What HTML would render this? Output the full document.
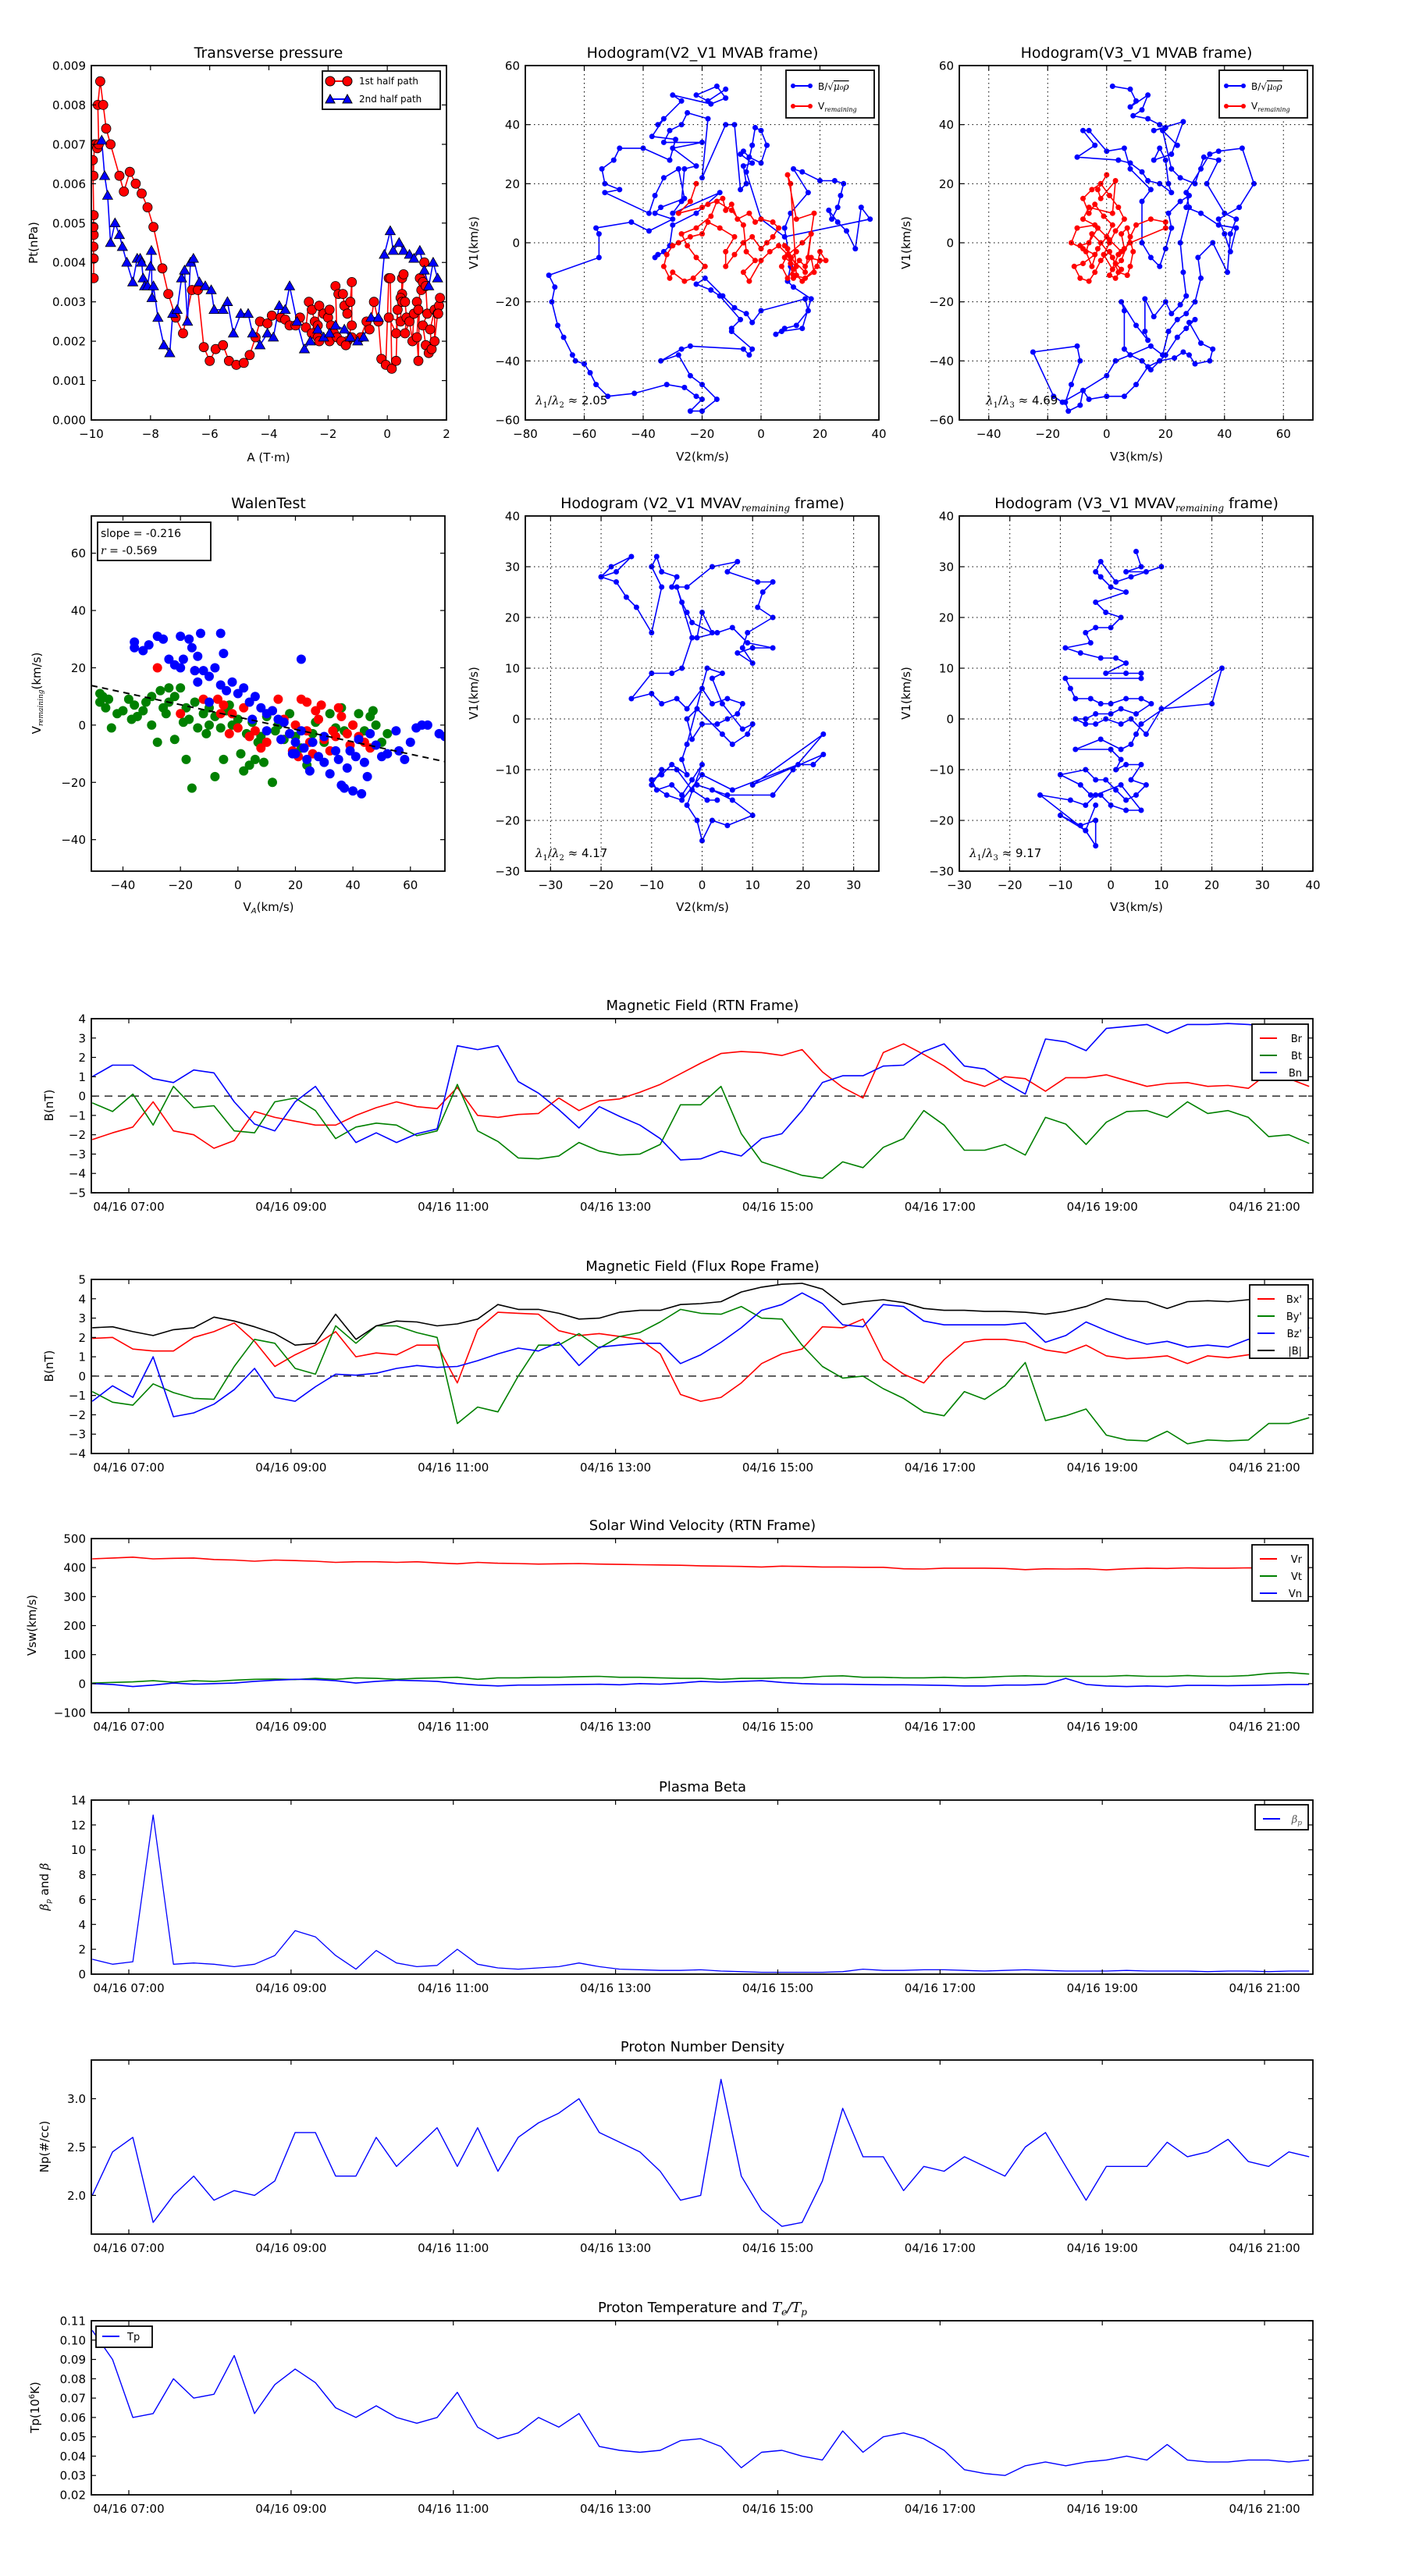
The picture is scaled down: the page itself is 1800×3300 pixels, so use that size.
<!DOCTYPE html>
<html><head><meta charset="utf-8"><title>Flux rope analysis</title>
<style>
html,body{margin:0;padding:0;background:#fff;}
svg{display:block;font-family:"DejaVu Sans","Liberation Sans",sans-serif;}
</style></head>
<body>
<svg id="fig" width="1800" height="3300" viewBox="0 0 1800 3300" xmlns="http://www.w3.org/2000/svg">
<rect x="0" y="0" width="1800" height="3300" fill="#fff"/>
<defs id="defs"></defs>
</svg>
<script>
// ---------- time-series data (15-min samples starting 06:33) ----------
const tStart = 6.55, tStep = 0.25;
const tickHours = [7,9,11,13,15,17,19,21];
const tickLabels = ["04/16 07:00","04/16 09:00","04/16 11:00","04/16 13:00","04/16 15:00","04/16 17:00","04/16 19:00","04/16 21:00"];
const Br = [-2.25,-1.9,-1.6,-0.3,-1.8,-2.0,-2.7,-2.3,-0.8,-1.1,-1.3,-1.5,-1.5,-1.0,-0.6,-0.3,-0.55,-0.65,0.45,-1.0,-1.1,-0.95,-0.9,-0.1,-0.75,-0.25,-0.15,0.2,0.6,1.15,1.7,2.2,2.3,2.25,2.1,2.4,1.25,0.45,-0.1,2.25,2.7,2.15,1.55,0.8,0.5,1.0,0.9,0.25,0.95,0.95,1.1,0.8,0.5,0.65,0.7,0.5,0.55,0.4,1.2,0.9,0.5];
const Bt = [-0.35,-0.8,0.1,-1.5,0.5,-0.6,-0.5,-1.8,-1.9,-0.3,-0.1,-0.75,-2.2,-1.6,-1.4,-1.5,-2.05,-1.8,0.6,-1.8,-2.35,-3.2,-3.25,-3.1,-2.4,-2.85,-3.05,-3.0,-2.5,-0.45,-0.45,0.5,-1.95,-3.4,-3.75,-4.1,-4.25,-3.4,-3.7,-2.65,-2.2,-0.75,-1.5,-2.8,-2.8,-2.5,-3.05,-1.1,-1.45,-2.5,-1.35,-0.8,-0.75,-1.1,-0.3,-0.9,-0.75,-1.1,-2.1,-2.0,-2.45];
const Bn = [1.0,1.6,1.6,0.9,0.7,1.35,1.2,-0.3,-1.45,-1.8,-0.3,0.5,-1.0,-2.4,-1.9,-2.4,-1.95,-1.7,2.6,2.4,2.6,0.75,0.15,-0.7,-1.65,-0.55,-1.05,-1.5,-2.2,-3.3,-3.25,-2.85,-3.1,-2.2,-1.95,-0.75,0.7,1.05,1.05,1.55,1.6,2.3,2.7,1.55,1.4,0.7,0.1,2.95,2.8,2.35,3.5,3.6,3.7,3.25,3.7,3.7,3.75,3.7,3.6,3.3,3.0];
const Bx = [1.95,2.0,1.4,1.3,1.3,2.0,2.3,2.75,1.8,0.5,1.1,1.6,2.3,1.0,1.2,1.1,1.6,1.6,-0.35,2.4,3.3,3.25,3.2,2.35,2.1,2.2,2.05,1.9,1.15,-0.95,-1.3,-1.1,-0.35,0.65,1.15,1.4,2.55,2.5,2.95,0.85,0.1,-0.35,0.85,1.75,1.9,1.9,1.75,1.35,1.2,1.6,1.05,0.9,0.95,1.05,0.65,1.05,0.95,1.1,1.2,1.6,1.9];
const By = [-0.8,-1.35,-1.5,-0.4,-0.85,-1.15,-1.2,0.5,1.9,1.7,0.4,0.1,2.6,1.7,2.6,2.6,2.25,2.0,-2.45,-1.6,-1.85,0,1.6,1.6,2.2,1.45,2.05,2.25,2.8,3.45,3.25,3.2,3.6,3.0,2.95,1.6,0.5,-0.1,0,-0.65,-1.15,-1.85,-2.05,-0.8,-1.2,-0.5,0.7,-2.3,-2.05,-1.7,-3.05,-3.3,-3.35,-2.85,-3.5,-3.3,-3.35,-3.3,-2.45,-2.45,-2.15];
const Bz = [-1.3,-0.5,-1.1,1.0,-2.1,-1.9,-1.45,-0.7,0.4,-1.1,-1.3,-0.55,0.1,0.05,0.15,0.4,0.55,0.45,0.5,0.8,1.15,1.45,1.3,1.75,0.55,1.5,1.6,1.7,1.7,0.65,1.1,1.75,2.5,3.4,3.7,4.3,3.75,2.65,2.55,3.7,3.6,2.85,2.65,2.65,2.65,2.65,2.75,1.75,2.1,2.8,2.35,1.95,1.65,1.8,1.5,1.6,1.5,1.9,2.1,2.3,2.5];
const Bmag = [2.5,2.55,2.3,2.1,2.4,2.5,3.05,2.85,2.55,2.2,1.6,1.7,3.2,1.9,2.6,2.85,2.8,2.6,2.7,2.95,3.7,3.45,3.45,3.25,2.95,3.0,3.3,3.4,3.4,3.7,3.75,3.85,4.35,4.6,4.75,4.8,4.5,3.7,3.85,3.95,3.8,3.5,3.4,3.4,3.35,3.35,3.3,3.2,3.35,3.6,4.0,3.9,3.85,3.5,3.85,3.9,3.85,3.95,4.0,4.0,4.0];
const Vr = [430,433,436,430,432,433,428,426,422,426,424,422,418,420,420,418,420,416,413,418,415,414,412,413,414,412,411,410,409,408,406,405,404,402,405,404,402,402,401,401,396,395,398,398,398,397,393,396,395,396,392,396,398,397,399,398,398,399,398,400,396];
const Vt = [2,4,6,10,5,10,8,12,15,16,14,18,15,20,18,15,18,20,22,15,20,20,22,22,24,25,22,22,20,18,18,15,18,18,20,20,25,27,22,22,20,20,22,20,22,25,27,25,25,25,25,28,25,25,28,25,25,28,35,38,33];
const Vn = [0,-3,-10,-5,2,-2,0,2,8,12,15,14,10,2,8,12,10,8,0,-5,-8,-5,-5,-4,-3,-2,-4,0,-2,2,8,5,8,10,4,0,-2,-2,-3,-4,-4,-5,-6,-8,-8,-5,-5,-2,18,-3,-8,-10,-8,-10,-6,-6,-7,-6,-5,-3,-3];
const betaP = [1.2,0.8,1.0,12.8,0.8,0.9,0.8,0.6,0.8,1.5,3.5,3.0,1.5,0.4,1.9,0.9,0.6,0.7,2.0,0.8,0.5,0.4,0.5,0.6,0.9,0.6,0.4,0.35,0.3,0.3,0.35,0.25,0.2,0.15,0.15,0.15,0.15,0.2,0.4,0.3,0.3,0.35,0.35,0.3,0.25,0.3,0.35,0.3,0.25,0.25,0.25,0.3,0.25,0.25,0.25,0.2,0.25,0.25,0.2,0.25,0.25];
const Np = [2.0,2.45,2.6,1.72,2.0,2.2,1.95,2.05,2.0,2.15,2.65,2.65,2.2,2.2,2.6,2.3,2.5,2.7,2.3,2.7,2.25,2.6,2.75,2.85,3.0,2.65,2.55,2.45,2.25,1.95,2.0,3.2,2.2,1.85,1.68,1.72,2.15,2.9,2.4,2.4,2.05,2.3,2.25,2.4,2.3,2.2,2.5,2.65,2.3,1.95,2.3,2.3,2.3,2.55,2.4,2.45,2.58,2.35,2.3,2.45,2.4];
const Tp = [0.105,0.09,0.06,0.062,0.08,0.07,0.072,0.092,0.062,0.077,0.085,0.078,0.065,0.06,0.066,0.06,0.057,0.06,0.073,0.055,0.049,0.052,0.06,0.055,0.062,0.045,0.043,0.042,0.043,0.048,0.049,0.045,0.034,0.042,0.043,0.04,0.038,0.053,0.042,0.05,0.052,0.049,0.043,0.033,0.031,0.03,0.035,0.037,0.035,0.037,0.038,0.04,0.038,0.046,0.038,0.037,0.037,0.038,0.038,0.037,0.038];

// ---------- transverse pressure ----------
const A1 = [-9.92,-9.92,-9.93,-9.92,-9.93,-9.92,-9.95,-9.93,-9.9,-9.85,-9.8,-9.75,-9.78,-9.7,-9.6,-9.5,-9.35,-9.05,-8.9,-8.7,-8.5,-8.3,-8.1,-7.9,-7.6,-7.4,-7.15,-6.9,-6.6,-6.4,-6.2,-6.0,-5.8,-5.55,-5.35,-5.1,-4.85,-4.65,-4.45,-4.3,-4.05,-3.9,-3.6,-3.45,-3.3,-3.1,-2.95,-2.75,-2.65,-2.55,-2.45,-2.55,-2.35,-2.3,-2.35,-2.3,-2.15,-2.0,-1.95,-1.9,-1.95,-1.8,-1.7,-1.75,-1.65,-1.5,-1.45,-1.35,-1.25,-1.2,-1.2,-1.35,-1.55,-1.4,-1.2,-0.9,-0.7,-0.6,-0.45,-0.3,-0.2,-0.05,0.05,0.1,0.15,0.3,0.35,0.3,0.05,0.45,0.5,0.55,0.5,0.45,0.5,0.6,0.65,0.6,0.75,0.85,0.9,1.0,1.05,1.0,1.05,1.1,1.15,1.2,1.25,1.3,1.35,1.2,1.3,1.4,1.5,1.45,1.6,1.6,1.7,1.75,1.78,1.72];
const P1 = [0.0036,0.0041,0.0044,0.0047,0.0049,0.0052,0.0066,0.0062,0.0070,0.0070,0.0069,0.0070,0.0080,0.0086,0.0080,0.0074,0.0070,0.0062,0.0058,0.0063,0.0060,0.00575,0.0054,0.0049,0.00385,0.0032,0.0026,0.0022,0.0033,0.0033,0.00185,0.0015,0.0018,0.0019,0.0015,0.0014,0.00145,0.00165,0.0021,0.0025,0.00245,0.00265,0.0026,0.00255,0.0024,0.0024,0.0026,0.00235,0.0030,0.0028,0.0025,0.0022,0.0021,0.0020,0.0024,0.0029,0.0027,0.0026,0.0028,0.0024,0.0020,0.0022,0.0021,0.0034,0.0032,0.0032,0.0029,0.0027,0.0030,0.0035,0.0024,0.0020,0.0020,0.0019,0.0021,0.0021,0.0025,0.0023,0.0030,0.0025,0.00155,0.0014,0.0036,0.0036,0.0013,0.0015,0.0028,0.0022,0.0026,0.0025,0.0036,0.0037,0.0032,0.0031,0.0030,0.0030,0.0026,0.0022,0.0025,0.0020,0.0027,0.0030,0.0028,0.0021,0.0015,0.0036,0.0033,0.0035,0.0040,0.0034,0.0027,0.0024,0.0019,0.0017,0.0018,0.0023,0.0028,0.0020,0.0027,0.0029,0.0031,0.0027];
const A2 = [-9.65,-9.55,-9.45,-9.35,-9.2,-9.05,-8.95,-8.8,-8.6,-8.45,-8.35,-8.3,-8.25,-8.2,-8.1,-8.0,-7.97,-7.95,-7.9,-7.75,-7.55,-7.35,-7.25,-7.1,-6.95,-6.85,-6.75,-6.65,-6.55,-6.35,-6.15,-5.95,-5.85,-5.55,-5.4,-5.2,-4.95,-4.7,-4.55,-4.3,-4.05,-3.85,-3.65,-3.45,-3.3,-3.05,-2.8,-2.6,-2.35,-2.15,-1.95,-1.75,-1.45,-1.25,-1.0,-0.8,-0.55,-0.3,-0.1,0.1,0.2,0.4,0.55,0.75,0.9,1.1,1.25,1.4,1.55,1.7];
const P2 = [0.0071,0.0062,0.0057,0.0045,0.0050,0.0047,0.0044,0.0040,0.0035,0.0041,0.0041,0.0040,0.0036,0.0034,0.0034,0.0039,0.0043,0.0031,0.0034,0.0026,0.0019,0.0017,0.0027,0.0028,0.0036,0.0038,0.0025,0.0040,0.0041,0.0035,0.0034,0.0033,0.0028,0.0028,0.0030,0.0022,0.0027,0.0027,0.0022,0.0019,0.0022,0.0021,0.0029,0.0028,0.0034,0.0025,0.0018,0.0020,0.0023,0.0021,0.0022,0.0024,0.0023,0.0021,0.0020,0.0021,0.0026,0.0026,0.0042,0.0048,0.0043,0.0045,0.0043,0.0042,0.0041,0.0043,0.0038,0.0034,0.0040,0.0036];

// ---------- hodogram MVAB V2-V1 ----------
const h1BV2 = [-12,-18,-22,-15,-12,-17,-30,-27,-35,-33,-37,-29,-31,-40,-48,-50,-54,-53,-48,-53,-38,-36,-33,-28,-26,-34,-36,-30,-38,-44,-56,-55,-55,-72,-70,-71,-69,-67,-64,-63,-60,-58,-56,-52,-43,-32,-26,-22,-20,-24,-20,-15,-20,-24,-28,-34,-27,-24,-6,-4,-3,-10,-10,-7,-14,-17,-22,-19,-13,-9,-5,-3,0,15,16,12,8,5,7,14,17,11,9,10,8,10,16,11,14,20,25,28,27,26,24,23,26,29,32,34,37,8,0,-5,-3,-2,0,2,0,-4,-6,-7,-3,-6,-5,-7,-9,-12,-20,-18,-25,-27,-31,-33,-20,-30,-22,-26,-27,-30,-14,-22,-30,-31,-33,-36,-35];
const h1BV1 = [52,48,50,53,49,47,50,48,40,42,36,35,28,32,32,28,25,20,18,17,10,16,22,25,15,12,10,8,4,7,5,3,-5,-11,-15,-20,-28,-32,-38,-40,-41,-44,-48,-52,-51,-48,-49,-52,-53,-57,-57,-53,-48,-45,-38,-40,-36,-35,-36,-38,-36,-30,-29,-26,-18,-16,-14,-12,-18,-22,-24,-27,-23,-19,-23,-28,-29,-31,-30,-29,-19,-15,-13,-8,5,10,17,25,24,21,21,20,16,12,8,11,7,4,-2,12,8,2,8,24,33,39,38,33,27,29,31,30,27,26,20,18,40,40,22,42,44,40,38,34,34,32,26,25,14,10,17,10,6,-1,-3,-5,-4];
const h1RV2 = [-22,-24,-28,-20,-18,-13,-12,-10,-8,-4,-2,0,4,6,4,2,0,-3,-6,-9,-12,-12,-9,-14,-18,-20,-24,-28,-30,-32,-33,-31,-30,-26,-23,-19,-22,-25,-27,-22,-17,-15,-10,-6,-5,-2,-6,-4,0,3,6,9,7,9,11,13,15,17,18,15,11,10,12,10,11,9,12,8,14,17,16,20,22,20,19,14,12,10,9,12,18,15,10,8];
const h1RV1 = [20,14,10,12,13,15,11,13,8,10,7,8,7,5,2,0,-2,2,0,-4,-8,-3,2,5,7,3,2,0,-1,-4,-8,-12,-10,-13,-12,-8,-5,-1,3,5,9,14,11,6,-3,-6,-10,-13,-6,-3,-1,-4,-8,-12,-9,-6,-8,-5,-10,-12,-11,-7,-3,-5,-12,-2,-8,-5,0,3,-5,-6,-6,-3,-8,-13,-11,20,23,8,10,-10,-5,-1];

// ---------- hodogram MVAB V3-V1 ----------
const h2BV3 = [2,8,10,8,14,12,9,14,18,20,16,26,22,16,18,20,21,22,18,14,12,8,4,-10,-4,-8,-6,0,6,8,15,12,12,15,18,20,22,21,25,28,27,32,38,44,42,40,38,45,50,46,38,35,32,27,28,25,26,27,25,22,20,16,13,13,14,10,5,6,6,8,12,15,20,24,27,30,28,32,36,35,30,28,26,23,18,14,10,6,0,-6,-8,-9,-13,-14,-12,-9,-10,-25,-18,-15,-8,0,3,8,15,19,21,24,27,30,32,31,36,41,42,44,40,34,38,33,30,25,22,19,24];
const h2BV1 = [53,52,48,46,50,45,43,42,40,39,38,41,30,28,32,28,20,17,20,21,24,27,28,29,33,38,38,31,32,25,18,14,0,-5,-8,-2,5,10,14,16,12,10,6,5,-3,3,8,12,20,32,31,30,25,17,12,0,-10,-18,-21,-24,-20,-25,-19,-30,-33,-28,-20,-23,-36,-38,-40,-43,-38,-32,-29,-26,-27,-34,-36,-40,-41,-38,-37,-39,-40,-42,-48,-52,-52,-53,-50,-55,-57,-54,-48,-40,-35,-37,-52,-54,-50,-45,-40,-38,-35,-38,-30,-26,-24,-20,-12,-5,0,-10,3,8,10,20,28,29,20,22,25,38,33];
const h2RV3 = [0,-3,-2,3,2,-6,-8,-4,-10,-12,-8,-4,-8,-11,-9,-6,-4,-2,1,3,5,3,1,4,6,5,7,9,8,7,4,2,-2,-5,-7,-5,-3,0,2,-1,-4,-6,-8,-5,-2,1,4,6,3,1,-1,2,5,8,10,15,20,20,8,5,1,-3,-6,-9];
const h2RV1 = [23,18,15,21,10,12,8,6,5,0,-2,-4,-7,-8,-12,-13,-10,-6,-3,-7,-9,-12,-11,-4,-2,3,5,-3,-8,-11,-10,-5,0,3,-3,-8,-2,2,6,9,13,10,15,18,20,16,12,8,4,0,-4,-9,-6,2,6,8,7,5,0,-3,1,5,0,-1];

// ---------- Walen test ----------
const wGx = [-48,-47,-46,-45,-48,-44,-40,-38,-36,-35,-33,-30,-28,-25,-24,-22,-20,-18,-17,-15,-14,-12,-10,-8,-6,-5,-4,-2,0,1,3,5,6,8,9,10,12,14,16,18,20,22,24,26,28,30,32,34,36,38,40,42,44,46,48,50,52,-16,-18,-22,-8,-10,-30,-27,-24,2,4,-42,-37,-32,-26,-19,-11,-3,7,13,27,37,47];
const wGy = [8,10,6,9,11,-1,5,9,7,3,5,0,-6,4,8,10,13,6,2,8,-1,4,6,3,-1,-12,5,0,2,-10,-3,1,-12,-4,-13,3,-20,0,-5,4,-4,-8,-14,-3,2,-6,4,-1,6,-3,0,4,-2,3,0,-6,-3,-22,-12,-5,-18,0,10,12,13,-16,-14,4,2,8,6,1,-3,7,-6,-2,1,-2,5];
const wRx = [-28,-15,-7,-5,-2,0,2,4,6,8,10,12,14,15,16,18,20,22,24,25,27,28,30,32,34,36,38,40,42,44,46,35,24,26,21,-20,-12,-6,-3,19,33,39,29];
const wRy = [20,19,9,7,4,-1,6,-4,-2,-8,-6,5,9,-5,2,-3,0,9,-2,-6,5,2,-5,-9,-4,3,-3,0,-4,-6,-8,6,8,-10,-11,4,9,4,-3,-9,-2,-7,7];
const wBx = [-36,-36,-33,-31,-28,-26,-24,-22,-20,-19,-17,-16,-15,-14,-13,-12,-10,-8,-6,-5,-6,-4,-2,0,2,4,6,8,10,12,14,15,16,18,19,20,22,22,23,24,25,26,28,30,32,34,35,36,37,38,39,40,41,42,43,44,46,48,50,52,55,56,58,60,62,64,66,70,72,-10,-20,-14,5,10,20,30,45];
const wBy = [29,27,26,28,31,30,23,21,31,23,30,27,19,24,32,19,17,20,32,25,14,12,15,11,13,8,10,6,4,5,2,-5,1,-3,-10,-6,-2,23,-8,-12,-16,-6,-11,-13,-17,-9,-12,-21,-22,-15,-9,-23,-11,-5,-24,-13,-3,-7,-11,-10,-2,-9,-12,-6,-1,0,0,-3,-4,8,20,15,2,-2,-10,-4,-18];
const walenSlope = -0.216, walenIntercept = 2.8;

// ---------- hodograms MVAV_remaining ----------
const h3V2 = [-20,-18,-14,-17,-20,-17,-15,-13,-10,-8,-10,-9,-8,-5,-6,-3,2,7,5,11,14,12,11,14,9,8,10,7,10,14,9,6,3,-1,0,2,-2,-3,-4,-5,-2,-4,-6,-10,-14,-10,-8,-5,-3,0,2,5,8,7,5,3,0,-2,-3,-1,4,6,9,10,8,4,2,4,1,-3,-4,-3,-6,-8,-10,-9,-6,-4,-2,0,-3,-1,0,2,5,10,6,2,-1,5,14,18,24,10,24,22,19,6,0,-4,-7,-10,-8,-5,-2,1,3];
const h3V1 = [28,30,32,29,28,27,24,22,17,26,30,32,29,28,26,26,30,31,29,27,27,25,22,20,17,14,11,13,14,14,15,18,17,16,21,17,19,21,23,26,16,10,9,9,4,5,3,4,2,6,3,4,3,1,0,-1,-1,-4,0,2,-3,-5,-3,-1,-2,3,8,9,10,-5,-8,-11,-9,-11,-12,-14,-13,-15,-12,-9,-17,-20,-24,-20,-21,-19,-16,-14,-13,-15,-15,-10,-3,-13,-7,-9,-9,-14,-11,-16,-15,-13,-10,-10,-14,-16,-16];
const h4V3 = [5,6,3,7,10,4,1,-2,-3,-2,0,3,-3,-1,2,0,-3,-5,-4,-9,-6,-2,1,3,-1,3,6,6,-9,-8,-7,-4,-2,0,3,6,8,5,2,0,-3,-5,-7,-5,-3,-1,2,4,7,10,20,22,6,5,4,2,-2,-7,0,2,1,3,6,4,7,5,3,1,-1,-3,-5,-10,-6,-4,-2,0,3,6,2,-3,-5,-8,-14,-5,-3,-3,-6,-10,-5,-3];
const h4V1 = [33,30,29,29,30,28,27,31,29,28,26,25,23,21,20,18,18,17,15,14,13,12,12,11,9,9,9,8,8,6,4,4,3,3,4,4,3,1,2,1,1,0,0,-1,-1,0,-1,0,-3,2,3,10,-1,-3,-5,-6,-4,-6,-6,-8,-10,-9,-9,-12,-13,-15,-16,-14,-12,-12,-10,-11,-13,-15,-15,-17,-18,-18,-13,-15,-17,-16,-15,-22,-25,-20,-21,-19,-22,-17];

// ================= drawing helpers =================
const NS = 'http://www.w3.org/2000/svg';
const svg = document.getElementById('fig');
const defs = document.getElementById('defs');
let clipId = 0;
function mk(tag, parent) { const e = document.createElementNS(NS, tag); parent.appendChild(e); return e; }
function fmtMinus(s) { return String(s).replace('-', '\u2212'); }

function makeAxes(name, x, y, w, h, xmin, xmax, ymin, ymax) {
  const g = mk('g', svg);
  
  
  const cp = mk('clipPath', defs);
  clipId++;
  cp.setAttribute('id', 'clip' + clipId);
  const cr = mk('rect', cp);
  cr.setAttribute('x', x); cr.setAttribute('y', y); cr.setAttribute('width', w); cr.setAttribute('height', h);
  const data = mk('g', g);
  
  
  data.setAttribute('clip-path', 'url(#clip' + clipId + ')');
  return { g, data, x, y, w, h,
    sx: v => x + (v - xmin) / (xmax - xmin) * w,
    sy: v => y + h - (v - ymin) / (ymax - ymin) * h };
}
function frame(ax) {
  const r = mk('rect', ax.g);
  
  
  r.setAttribute('x', ax.x); r.setAttribute('y', ax.y); r.setAttribute('width', ax.w); r.setAttribute('height', ax.h);
  r.setAttribute('fill', 'none'); r.setAttribute('stroke', '#000'); r.setAttribute('stroke-width', '1.8');
}
function text(parent, name, x, y, str, size, anchor, extra) {
  const t = mk('text', parent);
  
  
  t.setAttribute('x', x); t.setAttribute('y', y);
  t.setAttribute('font-size', size);
  t.setAttribute('text-anchor', anchor || 'middle');
  if (extra) t.setAttribute('transform', extra);
  t.textContent = str;
  return t;
}
function xTicks(ax, vals, labels, grid, size) {
  vals.forEach((v, i) => {
    const X = ax.sx(v);
    if (grid) {
      const gl = mk('line', ax.g);
      
      
      gl.setAttribute('x1', X); gl.setAttribute('x2', X); gl.setAttribute('y1', ax.y); gl.setAttribute('y2', ax.y + ax.h);
      gl.setAttribute('stroke', '#000'); gl.setAttribute('stroke-width', '1'); gl.setAttribute('stroke-dasharray', '1.5,4');
    }
    [[ax.y + ax.h, -6], [ax.y, 6]].forEach(p => {
      const l = mk('line', ax.g);
      
      
      l.setAttribute('x1', X); l.setAttribute('x2', X); l.setAttribute('y1', p[0]); l.setAttribute('y2', p[0] + p[1]);
      l.setAttribute('stroke', '#000'); l.setAttribute('stroke-width', '1.2');
    });
    text(ax.g, 'x-tick-label', X, ax.y + ax.h + 23, fmtMinus(labels[i]), size || 15);
  });
}
function yTicks(ax, vals, labels, grid, size) {
  vals.forEach((v, i) => {
    const Y = ax.sy(v);
    if (grid) {
      const gl = mk('line', ax.g);
      
      
      gl.setAttribute('x1', ax.x); gl.setAttribute('x2', ax.x + ax.w); gl.setAttribute('y1', Y); gl.setAttribute('y2', Y);
      gl.setAttribute('stroke', '#000'); gl.setAttribute('stroke-width', '1'); gl.setAttribute('stroke-dasharray', '1.5,4');
    }
    [[ax.x, 6], [ax.x + ax.w, -6]].forEach(p => {
      const l = mk('line', ax.g);
      
      
      l.setAttribute('x1', p[0]); l.setAttribute('x2', p[0] + p[1]); l.setAttribute('y1', Y); l.setAttribute('y2', Y);
      l.setAttribute('stroke', '#000'); l.setAttribute('stroke-width', '1.2');
    });
    text(ax.g, 'y-tick-label', ax.x - 7, Y + 5.5, fmtMinus(labels[i]), size || 15, 'end');
  });
}
function polyline(ax, name, xs, ys, color, width) {
  let d = '';
  xs.forEach((v, i) => { d += (i ? 'L' : 'M') + ax.sx(v).toFixed(1) + ',' + ax.sy(ys[i]).toFixed(1); });
  const p = mk('path', ax.data);
  
  
  p.setAttribute('d', d); p.setAttribute('fill', 'none'); p.setAttribute('stroke', color);
  p.setAttribute('stroke-width', width || 1.6); p.setAttribute('stroke-linejoin', 'round');
  return p;
}
function dots(ax, name, xs, ys, color, r, edge) {
  xs.forEach((v, i) => {
    const c = mk('circle', ax.data);
    
    
    c.setAttribute('cx', ax.sx(v).toFixed(1)); c.setAttribute('cy', ax.sy(ys[i]).toFixed(1)); c.setAttribute('r', r);
    c.setAttribute('fill', color);
    if (edge) { c.setAttribute('stroke', '#000'); c.setAttribute('stroke-width', '0.8'); }
  });
}
function tris(ax, name, xs, ys, color, s) {
  xs.forEach((v, i) => {
    const X = ax.sx(v), Y = ax.sy(ys[i]);
    const p = mk('polygon', ax.data);
    
    
    p.setAttribute('points', `${X},${Y - s} ${X - s},${Y + s * 0.75} ${X + s},${Y + s * 0.75}`);
    p.setAttribute('fill', color); p.setAttribute('stroke', '#000'); p.setAttribute('stroke-width', '0.8');
  });
}
function legendBox(parent, name, x, y, w, h) {
  const g = mk('g', parent);
  
  
  const r = mk('rect', g);
  
  
  r.setAttribute('x', x); r.setAttribute('y', y); r.setAttribute('width', w); r.setAttribute('height', h);
  r.setAttribute('fill', '#fff'); r.setAttribute('stroke', '#000'); r.setAttribute('stroke-width', '1.8');
  return g;
}
function legendLine(g, x1, x2, y, color) {
  const l = mk('line', g);
  
  
  l.setAttribute('x1', x1); l.setAttribute('x2', x2); l.setAttribute('y1', y); l.setAttribute('y2', y);
  l.setAttribute('stroke', color); l.setAttribute('stroke-width', '2');
}
function range(a, b, s) { const r = []; for (let v = a; v <= b + 1e-9; v += s) r.push(+v.toFixed(6)); return r; }

// ================= Transverse pressure =================
(function () {
  const ax = makeAxes('transverse-pressure-chart', 117, 84, 455, 454, -10, 2, 0, 0.009);
  text(ax.g, 'chart-title', 344, 74, 'Transverse pressure', 19);
  polyline(ax, 'first-half-line', A1, P1, '#f00', 1.6);
  polyline(ax, 'second-half-line', A2, P2, '#00f', 1.6);
  dots(ax, 'first-half-marker', A1, P1, '#f00', 6, true);
  tris(ax, 'second-half-marker', A2, P2, '#00f', 6.5);
  const xv = range(-10, 2, 2);
  xTicks(ax, xv, xv.map(String), false);
  const yv = range(0, 0.009, 0.001);
  yTicks(ax, yv, yv.map(v => v.toFixed(3)), false);
  text(ax.g, 'x-axis-title', 344, 591, 'A (T\u00b7m)', 15);
  text(ax.g, 'y-axis-title', 0, 0, 'Pt(nPa)', 15, 'middle', 'translate(48,311) rotate(-90)');
  frame(ax);
  const lg = legendBox(ax.g, 'legend', 413, 91, 151, 49);
  legendLine(lg, 423, 445, 104, '#f00');
  const c1 = mk('circle', lg);  
  c1.setAttribute('cx', 423); c1.setAttribute('cy', 104); c1.setAttribute('r', 6); c1.setAttribute('fill', '#f00'); c1.setAttribute('stroke', '#000');
  const c2 = mk('circle', lg);  
  c2.setAttribute('cx', 445); c2.setAttribute('cy', 104); c2.setAttribute('r', 6); c2.setAttribute('fill', '#f00'); c2.setAttribute('stroke', '#000');
  legendLine(lg, 423, 445, 127, '#00f');
  [423, 445].forEach(X => {
    const p = mk('polygon', lg);
    
    
    p.setAttribute('points', `${X},${121} ${X - 6},${132} ${X + 6},${132}`);
    p.setAttribute('fill', '#00f'); p.setAttribute('stroke', '#000');
  });
  text(lg, 'legend-label', 460, 108, '1st half path', 12, 'start');
  text(lg, 'legend-label', 460, 131, '2nd half path', 12, 'start');
})();

// ================= Hodogram helper =================
function lambdaText(ax, x, y, sub, val) {
  const t = mk('text', ax.g);
  
  
  t.setAttribute('x', x); t.setAttribute('y', y); t.setAttribute('font-size', 15);
  t.setAttribute('font-family', '"DejaVu Serif","Liberation Serif",serif');
  t.innerHTML = '<tspan font-style="italic">\u03bb</tspan><tspan font-size="10" dy="4">1</tspan><tspan dy="-4">/</tspan><tspan font-style="italic">\u03bb</tspan><tspan font-size="10" dy="4">' + sub + '</tspan><tspan dy="-4"> \u2248 </tspan><tspan font-family="DejaVu Sans, sans-serif">' + val + '</tspan>';
}
function hodoLegend(ax, x, y) {
  const lg = legendBox(ax.g, 'legend', x, y, 113, 61);
  [[y + 20, '#00f'], [y + 46, '#f00']].forEach(p => {
    legendLine(lg, x + 9, x + 31, p[0], p[1]);
    [x + 9, x + 31].forEach(X => {
      const c = mk('circle', lg);
      
      
      c.setAttribute('cx', X); c.setAttribute('cy', p[0]); c.setAttribute('r', 3); c.setAttribute('fill', p[1]);
    });
  });
  const t1 = mk('text', lg);
   
  t1.setAttribute('x', x + 41); t1.setAttribute('y', y + 25); t1.setAttribute('font-size', 12);
  t1.innerHTML = 'B/\u221a<tspan text-decoration="overline" font-style="italic" font-family="DejaVu Serif,serif">\u03bc\u2080\u03c1</tspan>';
  const t2 = mk('text', lg);
   
  t2.setAttribute('x', x + 41); t2.setAttribute('y', y + 50); t2.setAttribute('font-size', 12);
  t2.innerHTML = 'V<tspan font-size="8" dy="3" font-style="italic" font-family="DejaVu Serif,serif">remaining</tspan>';
}

// ================= Hodogram MVAB V2-V1 =================
(function () {
  const ax = makeAxes('hodogram-v2-v1-mvab', 673, 84, 453, 454, -80, 40, -60, 60);
  text(ax.g, 'chart-title', 900, 74, 'Hodogram(V2_V1 MVAB frame)', 19);
  const xv = range(-80, 40, 20), yv = range(-60, 60, 20);
  xTicks(ax, xv, xv.map(String), true);
  yTicks(ax, yv, yv.map(String), true);
  polyline(ax, 'b-alfven-path', h1BV2, h1BV1, '#00f', 1.6);
  dots(ax, 'b-alfven-point', h1BV2, h1BV1, '#00f', 3.5);
  polyline(ax, 'v-remaining-path', h1RV2, h1RV1, '#f00', 1.6);
  dots(ax, 'v-remaining-point', h1RV2, h1RV1, '#f00', 3.5);
  text(ax.g, 'x-axis-title', 900, 590, 'V2(km/s)', 15);
  text(ax.g, 'y-axis-title', 0, 0, 'V1(km/s)', 15, 'middle', 'translate(612,311) rotate(-90)');
  lambdaText(ax, 686, 518, '2', '2.05');
  frame(ax);
  hodoLegend(ax, 1007, 90);
})();

// ================= Hodogram MVAB V3-V1 =================
(function () {
  const ax = makeAxes('hodogram-v3-v1-mvab', 1229, 84, 453, 454, -50, 70, -60, 60);
  text(ax.g, 'chart-title', 1456, 74, 'Hodogram(V3_V1 MVAB frame)', 19);
  const xv = range(-40, 60, 20), yv = range(-60, 60, 20);
  xTicks(ax, xv, xv.map(String), true);
  yTicks(ax, yv, yv.map(String), true);
  polyline(ax, 'b-alfven-path', h2BV3, h2BV1, '#00f', 1.6);
  dots(ax, 'b-alfven-point', h2BV3, h2BV1, '#00f', 3.5);
  polyline(ax, 'v-remaining-path', h2RV3, h2RV1, '#f00', 1.6);
  dots(ax, 'v-remaining-point', h2RV3, h2RV1, '#f00', 3.5);
  text(ax.g, 'x-axis-title', 1456, 590, 'V3(km/s)', 15);
  text(ax.g, 'y-axis-title', 0, 0, 'V1(km/s)', 15, 'middle', 'translate(1166,311) rotate(-90)');
  lambdaText(ax, 1263, 518, '3', '4.69');
  frame(ax);
  hodoLegend(ax, 1562, 90);
})();

// ================= Walen test =================
(function () {
  const ax = makeAxes('walen-test-chart', 117, 661, 453, 455, -51, 72, -51, 73);
  text(ax.g, 'chart-title', 344, 651, 'WalenTest', 19);
  const xv = range(-40, 60, 20), yv = range(-40, 60, 20);
  xTicks(ax, xv, xv.map(String), false);
  yTicks(ax, yv, yv.map(String), false);
  dots(ax, 'walen-point-green', wGx, wGy, '#008000', 6);
  dots(ax, 'walen-point-red', wRx, wRy, '#f00', 6);
  dots(ax, 'walen-point-blue', wBx, wBy, '#00f', 6);
  const fx = [-51, 72];
  const fl = polyline(ax, 'fit-line', fx, fx.map(v => walenSlope * v + walenIntercept), '#000', 2);
  fl.setAttribute('stroke-dasharray', '8,6');
  const xl = mk('text', ax.g);
   
  xl.setAttribute('x', 344); xl.setAttribute('y', 1167); xl.setAttribute('font-size', 15); xl.setAttribute('text-anchor', 'middle');
  xl.innerHTML = 'V<tspan font-size="10" dy="3" font-style="italic">A</tspan><tspan dy="-3">(km/s)</tspan>';
  const yl = mk('text', ax.g);
   
  yl.setAttribute('x', 0); yl.setAttribute('y', 0); yl.setAttribute('font-size', 15); yl.setAttribute('text-anchor', 'middle');
  yl.setAttribute('transform', 'translate(52,888) rotate(-90)');
  yl.innerHTML = 'V<tspan font-size="9" dy="3" font-style="italic" font-family="DejaVu Serif,serif">remaining</tspan><tspan dy="-3">(km/s)</tspan>';
  frame(ax);
  const lg = legendBox(ax.g, 'fit-stats-box', 125, 669, 145, 49);
  text(lg, 'slope-text', 129, 688, 'slope = -0.216', 14, 'start');
  const r = mk('text', lg);
   
  r.setAttribute('x', 129); r.setAttribute('y', 710); r.setAttribute('font-size', 14);
  r.innerHTML = '<tspan font-style="italic" font-family="DejaVu Serif,serif">r</tspan> = -0.569';
})();

// ================= Hodograms MVAV remaining =================
function remTitle(parent, x, y, pre) {
  const t = mk('text', parent);
   
  t.setAttribute('x', x); t.setAttribute('y', y); t.setAttribute('font-size', 19); t.setAttribute('text-anchor', 'middle');
  t.innerHTML = pre + ' MVAV<tspan font-size="12" dy="4" font-style="italic" font-family="DejaVu Serif,serif">remaining</tspan><tspan dy="-4"> frame)</tspan>';
}
(function () {
  const ax = makeAxes('hodogram-v2-v1-mvav', 673, 661, 453, 455, -35, 35, -30, 40);
  remTitle(ax.g, 900, 651, 'Hodogram (V2_V1');
  const xv = range(-30, 30, 10), yv = range(-30, 40, 10);
  xTicks(ax, xv, xv.map(String), true);
  yTicks(ax, yv, yv.map(String), true);
  polyline(ax, 'velocity-path', h3V2, h3V1, '#00f', 1.6);
  dots(ax, 'velocity-point', h3V2, h3V1, '#00f', 3.5);
  text(ax.g, 'x-axis-title', 900, 1167, 'V2(km/s)', 15);
  text(ax.g, 'y-axis-title', 0, 0, 'V1(km/s)', 15, 'middle', 'translate(612,888) rotate(-90)');
  lambdaText(ax, 686, 1098, '2', '4.17');
  frame(ax);
})();
(function () {
  const ax = makeAxes('hodogram-v3-v1-mvav', 1229, 661, 453, 455, -30, 40, -30, 40);
  remTitle(ax.g, 1456, 651, 'Hodogram (V3_V1');
  const xv = range(-30, 40, 10), yv = range(-30, 40, 10);
  xTicks(ax, xv, xv.map(String), true);
  yTicks(ax, yv, yv.map(String), true);
  polyline(ax, 'velocity-path', h4V3, h4V1, '#00f', 1.6);
  dots(ax, 'velocity-point', h4V3, h4V1, '#00f', 3.5);
  text(ax.g, 'x-axis-title', 1456, 1167, 'V3(km/s)', 15);
  text(ax.g, 'y-axis-title', 0, 0, 'V1(km/s)', 15, 'middle', 'translate(1166,888) rotate(-90)');
  lambdaText(ax, 1242, 1098, '3', '9.17');
  frame(ax);
})();

// ================= Time series panels =================
const tMin = 6.538, tMax = 21.596;
function tsPanel(name, top, ymin, ymax, yv, ylab, title, ylabel, ylabX, series, zero, legend) {
  const ax = makeAxes(name, 117, top, 1565, 223, tMin, tMax, ymin, ymax);
  const tt = mk('text', ax.g);
   
  tt.setAttribute('x', 900); tt.setAttribute('y', top - 11); tt.setAttribute('font-size', 18); tt.setAttribute('text-anchor', 'middle');
  tt.innerHTML = title;
  xTicks(ax, tickHours, tickLabels, false);
  yTicks(ax, yv, ylab, false);
  if (zero) {
    const z = mk('line', ax.data);
     
    z.setAttribute('x1', ax.x); z.setAttribute('x2', ax.x + ax.w); z.setAttribute('y1', ax.sy(0)); z.setAttribute('y2', ax.sy(0));
    z.setAttribute('stroke', '#000'); z.setAttribute('stroke-width', '1.2'); z.setAttribute('stroke-dasharray', '10,7');
  }
  series.forEach(s => {
    const ts = s.v.map((_, i) => tStart + i * tStep);
    polyline(ax, s.name, ts, s.v, s.c, s.w || 1.6);
  });
  const yl = mk('text', ax.g);
   
  yl.setAttribute('x', 0); yl.setAttribute('y', 0); yl.setAttribute('font-size', 15); yl.setAttribute('text-anchor', 'middle');
  yl.setAttribute('transform', `translate(${ylabX},${top + 111}) rotate(-90)`);
  yl.innerHTML = ylabel;
  frame(ax);
  if (legend) {
    const lg = legendBox(ax.g, 'legend', legend.x, legend.y, legend.w, legend.h);
    legend.items.forEach((it, i) => {
      const yy = legend.y + 18 + i * legend.gap;
      legendLine(lg, legend.x + 10, legend.x + 32, yy, it[1]);
      const lt = mk('text', lg);
       
      lt.setAttribute('x', legend.x + legend.w - 8); lt.setAttribute('y', yy + 5); lt.setAttribute('font-size', 13); lt.setAttribute('text-anchor', 'end');
      lt.innerHTML = it[0];
    });
  }
  return ax;
}
tsPanel('magnetic-field-rtn-chart', 1305, -5, 4, range(-5, 4, 1), range(-5, 4, 1).map(String),
  'Magnetic Field (RTN Frame)', 'B(nT)', 68,
  [{ name: 'br-line', v: Br, c: '#f00' }, { name: 'bt-line', v: Bt, c: '#008000' }, { name: 'bn-line', v: Bn, c: '#00f' }], true,
  { x: 1604, y: 1312, w: 72, h: 72, gap: 22, items: [['Br', '#f00'], ['Bt', '#008000'], ['Bn', '#00f']] });
tsPanel('magnetic-field-flux-rope-chart', 1639, -4, 5, range(-4, 5, 1), range(-4, 5, 1).map(String),
  'Magnetic Field (Flux Rope Frame)', 'B(nT)', 68,
  [{ name: 'bx-line', v: Bx, c: '#f00' }, { name: 'by-line', v: By, c: '#008000' }, { name: 'bz-line', v: Bz, c: '#00f' }, { name: 'bmag-line', v: Bmag, c: '#000' }], true,
  { x: 1601, y: 1646, w: 75, h: 94, gap: 22, items: [["Bx'", '#f00'], ["By'", '#008000'], ["Bz'", '#00f'], ['|B|', '#000']] });
tsPanel('solar-wind-velocity-chart', 1971, -100, 500, range(-100, 500, 100), range(-100, 500, 100).map(String),
  'Solar Wind Velocity (RTN Frame)', 'Vsw(km/s)', 46,
  [{ name: 'vr-line', v: Vr, c: '#f00' }, { name: 'vt-line', v: Vt, c: '#008000' }, { name: 'vn-line', v: Vn, c: '#00f' }], false,
  { x: 1604, y: 1979, w: 72, h: 72, gap: 22, items: [['Vr', '#f00'], ['Vt', '#008000'], ['Vn', '#00f']] });
tsPanel('plasma-beta-chart', 2306, 0, 14, range(0, 14, 2), range(0, 14, 2).map(String),
  'Plasma Beta', '<tspan font-style="italic" font-family="DejaVu Serif,serif">\u03b2<tspan font-size="9" dy="3">p</tspan></tspan><tspan dy="-3"> and </tspan><tspan font-style="italic" font-family="DejaVu Serif,serif">\u03b2</tspan>', 62,
  [{ name: 'beta-p-line', v: betaP, c: '#00f', w: 1.3 }], false,
  { x: 1608, y: 2312, w: 68, h: 32, gap: 22, items: [['<tspan font-style="italic" font-family="DejaVu Serif,serif" fill="#555">\u03b2<tspan font-size="9" dy="3">p</tspan></tspan>', '#00f']] });
tsPanel('proton-density-chart', 2639, 1.6, 3.4, [2.0, 2.5, 3.0], ['2.0', '2.5', '3.0'],
  'Proton Number Density', 'Np(#/cc)', 62,
  [{ name: 'np-line', v: Np, c: '#00f', w: 1.4 }], false, null);
const tpAx = tsPanel('proton-temperature-chart', 2973, 0.02, 0.11, range(0.02, 0.11, 0.01), range(0.02, 0.11, 0.01).map(v => v.toFixed(2)),
  'Proton Temperature and <tspan font-style="italic" font-family="DejaVu Serif,serif">T<tspan font-size="12" dy="4">e</tspan><tspan dy="-4">/T</tspan><tspan font-size="12" dy="4">p</tspan></tspan>', 'Tp(10<tspan font-size="10" dy="-6">6</tspan><tspan dy="6">K)</tspan>', 50,
  [{ name: 'tp-line', v: Tp, c: '#00f', w: 1.4 }], false, null);
(function () {
  const lg = legendBox(tpAx.g, 'legend', 123, 2980, 72, 27);
  legendLine(lg, 131, 153, 2993, '#00f');
  text(lg, 'legend-label', 163, 2998, 'Tp', 13, 'start');
})();
</script>
</body></html>
